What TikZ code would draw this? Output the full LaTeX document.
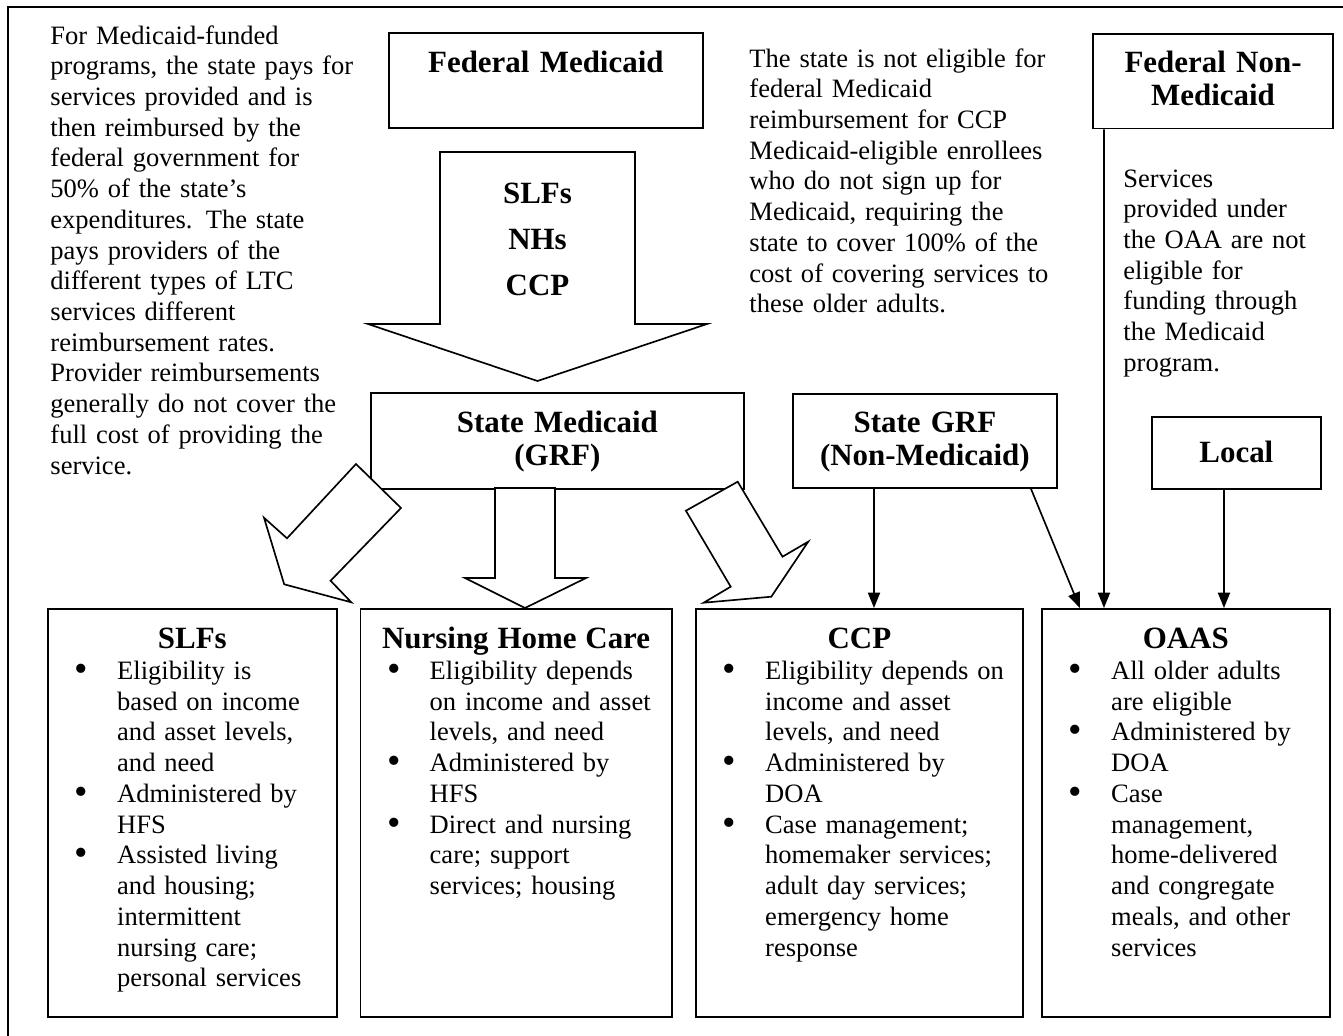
\documentclass[tikz,border=0pt]{standalone}
\usepackage{graphicx}
\usepackage{fontspec}
\setmainfont{Liberation Serif}
\usetikzlibrary{arrows.meta}

\newcommand{\bi}{\hspace*{12.2pt}\makebox[19.2pt][l]{\raisebox{-0.9pt}{\scalebox{1.45}{\textbullet}}}}
\newcommand{\bc}{\hspace*{31.4pt}}
\newcommand{\btitle}[1]{\makebox[\linewidth]{\fontsize{14}{15}\selectfont\bfseries #1}}

\begin{document}
\begin{tikzpicture}[x=0.4525pt, y=-0.4525pt,
  txt/.style={inner sep=0, anchor=base west, align=left, text width=165pt, font=\fontsize{12}{13.9}\selectfont},
  hbox/.style={draw, line width=0.75pt, inner sep=0, anchor=north west, align=center, font=\fontsize{14}{15}\selectfont\bfseries},
  lbox/.style={draw, line width=0.75pt, inner sep=0, anchor=north west, align=left, text height=18.1pt, text depth=166.5pt, font=\fontsize{12}{13.9}\selectfont},
  barrow/.style={draw, line width=0.75pt, fill=white, line join=miter},
  tarrow/.style={draw, line width=0.75pt, -{Triangle[length=7pt,width=5.5pt]}}]
\useasboundingbox (0,0) rectangle (1343,1036);
\draw[line width=1pt] (8,1036) -- (8,7) -- (1343,7);

\node[txt] (fundnote) at (50,44) {For Medicaid-funded\\programs, the state pays for\\services provided and is\\then reimbursed by the\\federal government for\\50\% of the state’s\\expenditures.  The state\\pays providers of the\\different types of LTC\\services different\\reimbursement rates.\\Provider reimbursements\\generally do not cover the\\full cost of providing the\\service.};
\node[txt] (ccpnote) at (749,67) {The state is not eligible for\\federal Medicaid\\reimbursement for CCP\\Medicaid-eligible enrollees\\who do not sign up for\\Medicaid, requiring the\\state to cover 100\% of the\\cost of covering services to\\these older adults.};
\node[txt, text width=100pt] (oaanote) at (1123,187) {Services\\provided under\\the OAA are not\\eligible for\\funding through\\the Medicaid\\program.};

\node[hbox, text width=142.1pt, text height=18.1pt, text depth=24.9pt] (fedmed) at (388,32) {Federal Medicaid};
\node[hbox, text width=108.8pt, text height=17.6pt, text depth=25.3pt] (fednon) at (1092,33) {Federal Non-\\Medicaid};
\node[hbox, text width=168.8pt, text height=18.1pt, text depth=25.3pt] (stmed) at (370,392) {State Medicaid\\(GRF)};
\node[hbox, text width=119.5pt, text height=17.6pt, text depth=24.9pt] (stgrf) at (792,393) {State GRF\\(Non-Medicaid)};
\node[hbox, text width=76.5pt, text height=20.8pt, text depth=11.8pt] (local) at (1151,416) {Local};

\node[lbox, text width=130.8pt] (slfs) at (47,608) {\btitle{SLFs}\\\bi Eligibility is\\\bc based on income\\\bc and asset levels,\\\bc and need\\\bi Administered by\\\bc HFS\\\bi Assisted living\\\bc and housing;\\\bc intermittent\\\bc nursing care;\\\bc personal services};
\node[lbox, text width=141.0pt] (nhc) at (359.5,608) {\btitle{Nursing Home Care}\\\bi Eligibility depends\\\bc on income and asset\\\bc levels, and need\\\bi Administered by\\\bc HFS\\\bi Direct and nursing\\\bc care; support\\\bc services; housing};
\node[lbox, text width=148.0pt] (ccp) at (695,608) {\btitle{CCP}\\\bi Eligibility depends on\\\bc income and asset\\\bc levels, and need\\\bi Administered by\\\bc DOA\\\bi Case management;\\\bc homemaker services;\\\bc adult day services;\\\bc emergency home\\\bc response};
\node[lbox, text width=130.3pt] (oaas) at (1041,608) {\btitle{OAAS}\\\bi All older adults\\\bc are eligible\\\bi Administered by\\\bc DOA\\\bi Case\\\bc management,\\\bc home-delivered\\\bc and congregate\\\bc meals, and other\\\bc services};

\draw[barrow] (440,152) -- (635,152) -- (635,324) -- (707,324) -- (537.5,381) -- (368,324) -- (440,324) -- cycle;
\node[inner sep=0, anchor=base, align=center, text width=60pt, font=\fontsize{14}{21}\selectfont\bfseries] (flows) at (537.5,203) {SLFs\\NHs\\CCP};
\draw[barrow] (356,464) -- (401,508) -- (330.6,580.7) -- (351.3,602.3) -- (284.2,584.3) -- (264,517.7) -- (287,538.3) -- cycle;
\draw[barrow] (495,488) -- (555,488) -- (555,578) -- (586,578) -- (525,608) -- (465,578) -- (495,578) -- cycle;
\draw[barrow] (737.7,481.7) -- (782.5,556.7) -- (808.2,541.7) -- (771.3,596.7) -- (703.7,602.7) -- (730.7,586.7) -- (685.9,510.7) -- cycle;

\draw[tarrow] ([xshift=37.1pt]stgrf.south west) -- ([xshift=81pt]ccp.north west);
\draw[tarrow] ([xshift=108.1pt]stgrf.south west) -- ([xshift=17.6pt]oaas.north west);
\draw[tarrow] ([xshift=5.4pt]fednon.south west) -- ([xshift=28.5pt]oaas.north west);
\draw[tarrow] ([xshift=33pt]local.south west) -- ([xshift=82.8pt]oaas.north west);
\end{tikzpicture}
\end{document}
